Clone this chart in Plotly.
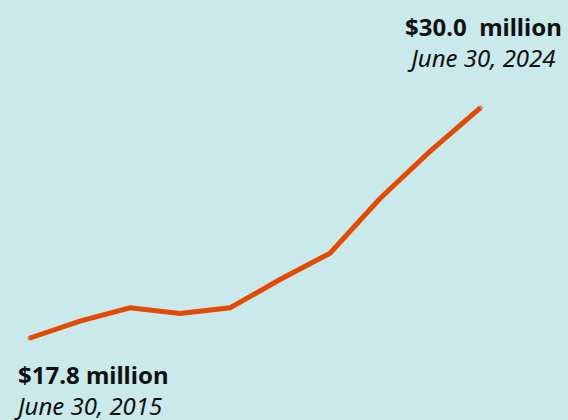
import plotly.graph_objects as go

years = [2015, 2016, 2017, 2018, 2019, 2020, 2021, 2022, 2023, 2024]
values = [17.8, 18.7, 19.4, 19.1, 19.4, 20.9, 22.3, 25.2, 27.7, 30.0]

start_value_label = "$17.8 million"
start_date_label = "June 30, 2015"
end_value_label = "$30.0  million"
end_date_label = "June 30, 2024"

W, H = 568, 420
BG = "#c9e9ea"
LINE = "#e24a05"
FONT = "Noto Sans"
LW = 5

fig = go.Figure()
cap_sizes = [LW if i in (0, len(years) - 1) else 0 for i in range(len(years))]
fig.add_trace(go.Scatter(x=years, y=values, mode="lines+markers",
                         line=dict(color=LINE, width=LW),
                         marker=dict(color=LINE, size=cap_sizes, line=dict(width=0)),
                         hoverinfo="skip"))

def px(x):
    return x / W

def py(y):
    return 1 - y / H

ann = [
    dict(x=px(564), y=py(42), align="right",
         text=f"<b>{end_value_label}</b><br><i>{end_date_label}</i>&nbsp;",
         xanchor="right", yanchor="middle",
         font=dict(size=24, color="#111111", family=FONT)),
    dict(x=px(12), y=py(390), align="left",
         text=f"<b>{start_value_label}</b><br><i>{start_date_label}</i>",
         xanchor="left", yanchor="middle",
         font=dict(size=24, color="#111111", family=FONT)),
]
for a in ann:
    fig.add_annotation(xref="paper", yref="paper", showarrow=False, **a)

fig.update_layout(
    width=W, height=H,
    margin=dict(l=0, r=0, t=0, b=0),
    paper_bgcolor=BG, plot_bgcolor=BG,
    showlegend=False,
    xaxis=dict(range=[2014.4, 2025.76], visible=False, fixedrange=True),
    yaxis=dict(range=[13.45, 35.73], visible=False, fixedrange=True),
)

fig.write_html("out.html", config={"displayModeBar": False},
               post_script="document.body.style.margin='0';document.body.style.padding='0';document.body.style.overflow='hidden';")
